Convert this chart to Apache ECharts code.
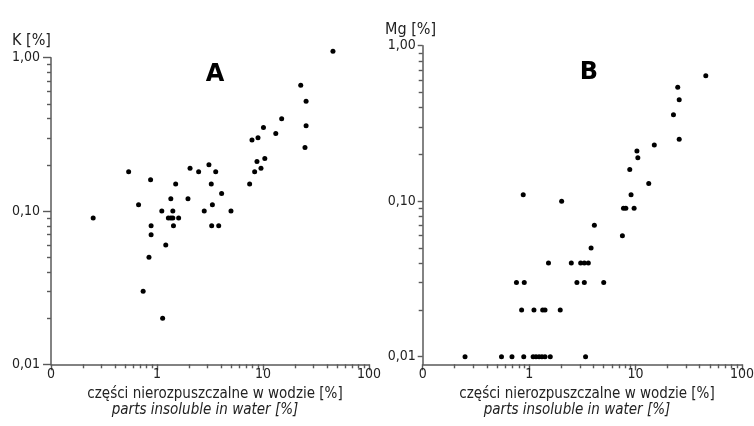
<!DOCTYPE html>
<html>
<head>
<meta charset="utf-8">
<script src="https://cdn.jsdelivr.net/npm/echarts@6/dist/echarts.min.js"></script>
<style>
html, body { margin: 0; padding: 0; background: #fff; }
#chart { width: 754px; height: 426px; }
</style>
</head>
<body>
<div id="chart"></div>
<script>
// chart A: K vs insoluble parts
var xA = [45.7, 22.7, 25.5, 15.0, 10.1, 25.5, 8.97, 7.87, 13.2, 24.9, 10.4, 8.77, 9.57, 8.34, 7.48, 0.54, 0.87, 1.5, 2.05, 2.47, 3.09, 3.58, 3.25, 4.07, 0.67, 1.35, 1.96, 3.33, 1.11, 1.41, 2.79, 4.99, 0.25, 1.28, 1.35, 1.41, 1.60, 0.88, 1.43, 3.28, 3.82, 0.88, 1.21, 0.84, 0.74, 1.13];
var yA = [1.10, 0.66, 0.52, 0.40, 0.35, 0.36, 0.30, 0.29, 0.32, 0.26, 0.22, 0.21, 0.19, 0.18, 0.15, 0.18, 0.16, 0.15, 0.19, 0.18, 0.20, 0.18, 0.15, 0.13, 0.11, 0.12, 0.12, 0.11, 0.10, 0.10, 0.10, 0.10, 0.09, 0.09, 0.09, 0.09, 0.09, 0.08, 0.08, 0.08, 0.08, 0.07, 0.06, 0.05, 0.03, 0.02];
// chart B: Mg vs insoluble parts
var xB = [45.7, 24.9, 25.7, 22.7, 25.7, 15.0, 10.3, 10.5, 8.82, 13.3, 0.88, 9.07, 2.02, 7.7, 8.1, 9.69, 4.10, 7.52, 3.82, 1.52, 2.49, 3.05, 3.30, 3.60, 0.76, 0.90, 2.81, 3.30, 5.02, 0.85, 1.11, 1.34, 1.41, 1.96, 0.25, 0.55, 0.69, 0.89, 1.09, 1.16, 1.24, 1.32, 1.41, 1.58, 3.39];
var yB = [0.64, 0.54, 0.45, 0.36, 0.25, 0.23, 0.21, 0.19, 0.16, 0.13, 0.11, 0.11, 0.10, 0.09, 0.09, 0.09, 0.07, 0.06, 0.05, 0.04, 0.04, 0.04, 0.04, 0.04, 0.03, 0.03, 0.03, 0.03, 0.03, 0.02, 0.02, 0.02, 0.02, 0.02, 0.01, 0.01, 0.01, 0.01, 0.01, 0.01, 0.01, 0.01, 0.01, 0.01, 0.01];

var xTicks = [0.1, 1, 10, 100];
var xTickLabels = ['0', '1', '10', '100'];
var yTicks = [0.01, 0.1, 1];
var yTickLabels = ['0,01', '0,10', '1,00'];

var xTitle = 'części nierozpuszczalne w wodzie [%]';
var xSubTitle = 'parts insoluble in water [%]';

var FONT = "'Liberation Sans Narrow', 'DejaVu Sans Condensed', 'Liberation Sans', sans-serif";
var AXIS = '#5a5a5a';

// axes are linear in log10 units
function lg(v) { return Math.log10(v); }
function lgAll(arr) { return arr.map(lg); }
function minorOf(decades) {
	var out = [];
	for (var i = 0; i < decades.length - 1; i++) {
		for (var k = 2; k <= 9; k++) out.push(lg(decades[i] * k));
	}
	return out;
}
function pairs(xs, ys) {
	var d = [];
	for (var i = 0; i < xs.length; i++) d.push([lg(xs[i]), lg(ys[i])]);
	return d;
}
function lab(ticks, labels) {
	return function (v) {
		for (var i = 0; i < ticks.length; i++) {
			if (Math.abs(v - lg(ticks[i])) < 1e-6) return labels[i];
		}
		return '';
	};
}

function xAxes(grid, margin) {
	return [{
		type: 'value', gridIndex: grid, min: lg(0.1), max: lg(100), position: 'bottom',
		axisLine: {show: true, onZero: false, lineStyle: {color: AXIS, width: 1.5}},
		axisTick: {show: true, length: 6, customValues: lgAll(xTicks), lineStyle: {color: AXIS, width: 1.4}},
		axisLabel: {show: true, customValues: lgAll(xTicks), formatter: lab(xTicks, xTickLabels), margin: margin,
			color: '#222', fontSize: 14, fontFamily: FONT},
		splitLine: {show: false}
	}, {
		type: 'value', gridIndex: grid, min: lg(0.1), max: lg(100), position: 'bottom',
		axisLine: {show: false, onZero: false},
		axisTick: {show: true, length: 4, customValues: minorOf(xTicks), lineStyle: {color: AXIS, width: 1.4}},
		axisLabel: {show: false}, splitLine: {show: false}
	}];
}
function yAxes(grid, min, tickLen, margin) {
	return [{
		type: 'value', gridIndex: grid, min: lg(min), max: 0, position: 'left',
		axisLine: {show: true, onZero: false, lineStyle: {color: AXIS, width: 1.5}},
		axisTick: {show: true, length: tickLen, customValues: lgAll(yTicks), lineStyle: {color: AXIS, width: 1.4}},
		axisLabel: {show: true, customValues: lgAll(yTicks), formatter: lab(yTicks, yTickLabels), margin: margin,
			color: '#222', fontSize: 14, fontFamily: FONT},
		splitLine: {show: false}
	}, {
		type: 'value', gridIndex: grid, min: lg(min), max: 0, position: 'left',
		axisLine: {show: false, onZero: false},
		axisTick: {show: true, length: 4, customValues: minorOf(yTicks), lineStyle: {color: AXIS, width: 1.4}},
		axisLabel: {show: false}, splitLine: {show: false}
	}];
}

var myChart = echarts.init(document.getElementById('chart'), null, {renderer: 'canvas'});
var option = {
	backgroundColor: '#fff',
	animation: false,
	title: [
		{text: 'A', left: 210, top: 58, textAlign: 'center', textStyle: {fontSize: 24, fontWeight: 900, color: '#000', fontFamily: "'DejaVu Sans', sans-serif"}},
		{text: 'B', left: 584, top: 56, textAlign: 'center', textStyle: {fontSize: 24, fontWeight: 900, color: '#000', fontFamily: "'DejaVu Sans', sans-serif"}},
		{text: 'K [%]', left: 7, top: 28, textStyle: {fontSize: 16, fontWeight: 'normal', color: '#222', fontFamily: FONT}},
		{text: 'Mg [%]', left: 380, top: 17, textStyle: {fontSize: 16, fontWeight: 'normal', color: '#222', fontFamily: FONT}},
		{text: xTitle, left: 210, top: 382, textAlign: 'center', textStyle: {fontSize: 15, fontWeight: 'normal', color: '#222', fontFamily: FONT}},
		{text: xSubTitle, left: 200, top: 398, textAlign: 'center', textStyle: {fontSize: 15, fontWeight: 'normal', fontStyle: 'italic', color: '#222', fontFamily: FONT}},
		{text: xTitle, left: 582, top: 382, textAlign: 'center', textStyle: {fontSize: 15, fontWeight: 'normal', color: '#222', fontFamily: FONT}},
		{text: xSubTitle, left: 572, top: 398, textAlign: 'center', textStyle: {fontSize: 15, fontWeight: 'normal', fontStyle: 'italic', color: '#222', fontFamily: FONT}}
	],
	grid: [
		{left: 51, right: 385, top: 57.7, bottom: 61.7, outerBoundsMode: 'none'},
		{left: 422.7, right: 12, top: 45.7, bottom: 61.7, outerBoundsMode: 'none'}
	],
	xAxis: xAxes(0, 3).concat(xAxes(1, 3)),
	yAxis: yAxes(0, 0.01, 8, 11).concat(yAxes(1, 0.00894, 5, 7)),
	series: [
		{type: 'scatter', xAxisIndex: 0, yAxisIndex: 0, data: pairs(xA, yA), symbolSize: 5, clip: false,
			itemStyle: {color: '#000', opacity: 1}},
		{type: 'scatter', xAxisIndex: 2, yAxisIndex: 2, data: pairs(xB, yB), symbolSize: 5, clip: false,
			itemStyle: {color: '#000', opacity: 1}}
	]
};
myChart.setOption(option);
</script>
</body>
</html>
